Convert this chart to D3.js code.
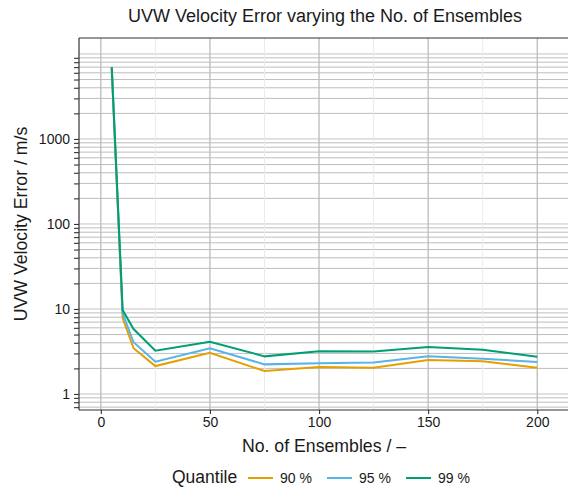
<!DOCTYPE html>
<html>
<head>
<meta charset="utf-8">
<script src="https://cdn.jsdelivr.net/npm/d3@7"></script>
<style>
  body { margin: 0; background: #fff; }
  text { font-family: "Liberation Sans", Arial, Helvetica, sans-serif; fill: #1a1a1a; }
</style>
</head>
<body>
<svg width="568" height="488"></svg>
<script>
// data
var ensembles = [5, 10, 15, 25, 50, 75, 100, 125, 150, 175, 200];
var q90 = [6800, 7.8, 3.45, 2.13, 3.06, 1.86, 2.08, 2.04, 2.51, 2.42, 2.04];
var q95 = [6900, 8.9, 4.06, 2.4, 3.45, 2.23, 2.30, 2.34, 2.78, 2.6, 2.38];
var q99 = [7000, 9.7, 5.8, 3.23, 4.12, 2.77, 3.18, 3.17, 3.57, 3.32, 2.75];
var quantileLabels = ['90 %', '95 %', '99 %'];
var colors = ['#E69F00', '#56B4E9', '#009E73'];
var xMajor = [0, 50, 100, 150, 200];
var xMinor = [25, 75, 125, 175];
var yLabels = [1, 10, 100, 1000];

var series = [q90, q95, q99];

var svg = d3.select('svg');
var padding = {t: 38, r: -2, b: 78, l: 79};
var width = +svg.attr('width');
var height = +svg.attr('height');

var xScale = d3.scaleLinear().domain([-10, 215]).range([padding.l, width - padding.r]);
var yScale = d3.scaleLog().domain([0.648, 15400]).range([height - padding.b, padding.t]);

// all log gridline values: 1..9 x 10^k
var yGrid = [];
[0.1, 1, 10, 100, 1000, 10000].forEach(function(dec) {
    for (var m = 1; m <= 9; m++) {
        var v = m * dec;
        if (v >= yScale.domain()[0] && v <= yScale.domain()[1]) yGrid.push(v);
    }
});

var grid = svg.append('g');
grid.selectAll('.hgrid')
    .data(yGrid)
    .enter().append('line')
    .attr('x1', xScale.range()[0]).attr('x2', xScale.range()[1])
    .attr('y1', function(d) { return yScale(d); })
    .attr('y2', function(d) { return yScale(d); })
    .attr('stroke', function(d) { return yLabels.indexOf(d) >= 0 || d == 10000 ? '#c4c4c4' : '#bdbdbd'; })
    .attr('stroke-width', 1);

grid.selectAll('.vminor')
    .data(xMinor)
    .enter().append('line')
    .attr('x1', function(d) { return xScale(d); })
    .attr('x2', function(d) { return xScale(d); })
    .attr('y1', yScale.range()[0]).attr('y2', yScale.range()[1])
    .attr('stroke', '#ebebeb').attr('stroke-width', 1);

grid.selectAll('.vmajor')
    .data(xMajor)
    .enter().append('line')
    .attr('x1', function(d) { return xScale(d); })
    .attr('x2', function(d) { return xScale(d); })
    .attr('y1', yScale.range()[0]).attr('y2', yScale.range()[1])
    .attr('stroke', '#bcbcbc').attr('stroke-width', 1.3);

// lines
var line = d3.line()
    .x(function(d, i) { return xScale(ensembles[i]); })
    .y(function(d) { return yScale(d); });

svg.append('g').selectAll('path')
    .data(series)
    .enter().append('path')
    .attr('d', line)
    .attr('fill', 'none')
    .attr('stroke', function(d, i) { return colors[i]; })
    .attr('stroke-width', 2);

// axes
var yTicks = yGrid.filter(function(d) { return d < 10000; });
var yAxis = d3.axisLeft(yScale)
    .tickValues(yTicks)
    .tickSize(5)
    .tickPadding(4)
    .tickFormat(function(d) { return yLabels.indexOf(d) >= 0 ? d : ''; });
var yG = svg.append('g')
    .attr('transform', 'translate(' + padding.l + ',0)')
    .call(yAxis);

var xAxis = d3.axisBottom(xScale).tickValues(xMajor).tickSize(4).tickPadding(3);
var xG = svg.append('g')
    .attr('transform', 'translate(0,' + (height - padding.b) + ')')
    .call(xAxis);

[xG, yG].forEach(function(g) {
    g.select('.domain').remove();
    g.selectAll('.tick line').attr('stroke', '#333').attr('stroke-width', 1.1);
    g.selectAll('.tick text').style('font-size', '14px').attr('fill', '#1a1a1a');
});

// panel border: top, left, bottom
svg.append('line').attr('x1', padding.l).attr('x2', width)
    .attr('y1', padding.t).attr('y2', padding.t).attr('stroke', '#333').attr('stroke-width', 1.2);
svg.append('line').attr('x1', padding.l).attr('x2', width)
    .attr('y1', height - padding.b).attr('y2', height - padding.b).attr('stroke', '#333').attr('stroke-width', 1.2);
svg.append('line').attr('x1', padding.l).attr('x2', padding.l)
    .attr('y1', padding.t).attr('y2', height - padding.b).attr('stroke', '#333').attr('stroke-width', 1.2);

// titles
svg.append('text')
    .attr('x', 325).attr('y', 22)
    .attr('text-anchor', 'middle')
    .style('font-size', '18px')
    .text('UVW Velocity Error varying the No. of Ensembles');

svg.append('text')
    .attr('x', 324).attr('y', 452)
    .attr('text-anchor', 'middle')
    .style('font-size', '17.7px')
    .text('No. of Ensembles / \u2013');

svg.append('text')
    .attr('transform', 'translate(27,224) rotate(-90)')
    .attr('text-anchor', 'middle')
    .style('font-size', '17.7px')
    .text('UVW Velocity Error / m/s');

// legend
var legend = svg.append('g');
legend.append('text')
    .attr('x', 172).attr('y', 483)
    .style('font-size', '17.5px')
    .text('Quantile');
var legX = [248, 327, 406];
var item = legend.selectAll('.item')
    .data(quantileLabels)
    .enter().append('g');
item.append('line')
    .attr('x1', function(d, i) { return legX[i]; })
    .attr('x2', function(d, i) { return legX[i] + 25; })
    .attr('y1', 478).attr('y2', 478)
    .attr('stroke', function(d, i) { return colors[i]; })
    .attr('stroke-width', 2);
item.append('text')
    .attr('x', function(d, i) { return legX[i] + 32; })
    .attr('y', 483)
    .style('font-size', '14px')
    .text(function(d) { return d; });
</script>
</body>
</html>
